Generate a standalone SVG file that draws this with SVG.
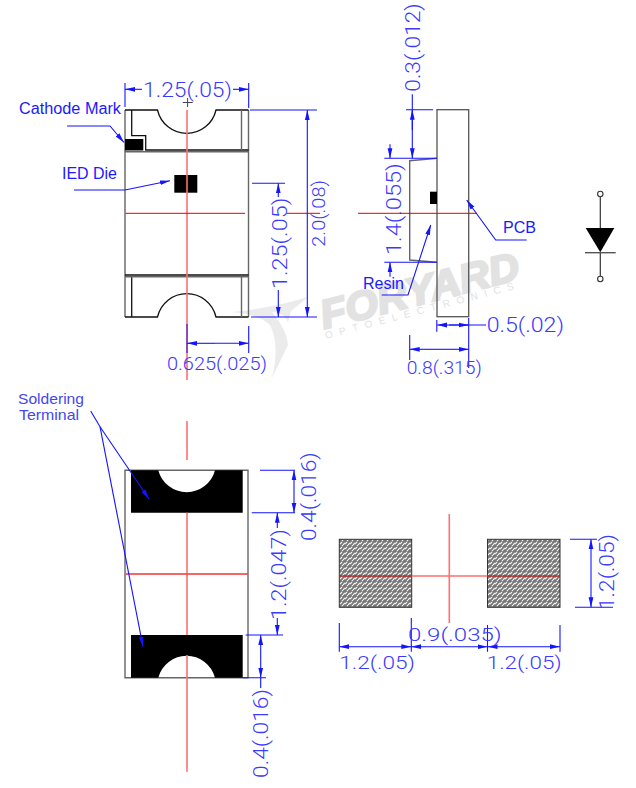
<svg xmlns="http://www.w3.org/2000/svg" width="636" height="788" viewBox="0 0 636 788">
<style>
.bg{fill:#fff}
.o{fill:none;stroke:#111;stroke-width:1.3}
.g{fill:none;stroke:#666;stroke-width:1.4}
.k{fill:#000}
.r{fill:none;stroke:#e00000;stroke-width:1}
.rl{fill:none;stroke:#ff7070;stroke-width:1.6}
.d{fill:none;stroke:#1414ff;stroke-width:1.1}
.a{fill:none;stroke:#1414ff;stroke-width:1.1;marker-end:url(#ah)}
.t{font-family:Roboto,"Liberation Sans",Arial,sans-serif;font-weight:300;fill:#3a3aff;font-size:21px}
.l{font-family:"Liberation Sans",Arial,sans-serif;fill:#1a1aff;font-size:16px}
.s{font-family:"Liberation Sans",Arial,sans-serif;fill:#4646f0;font-size:15px}
.w{font-family:"Liberation Sans",Arial,sans-serif;fill:#e2e2e2}
</style>
<defs>
<marker id="ah" markerUnits="userSpaceOnUse" markerWidth="11" markerHeight="7" refX="10" refY="3" orient="auto"><path d="M0,0.6L10,3L0,5.4Z" fill="#1414ff"/></marker>
<pattern id="hatch" width="5" height="5" patternUnits="userSpaceOnUse"><rect width="5" height="5" fill="#777"/><path d="M0,4L2,2M3,5L5,3M2,1L3,0" stroke="#f2f2f2" stroke-width="1.2"/></pattern>
</defs>
<rect class="bg" width="636" height="788"/>

<g id="watermark">
<path d="M232,312Q272,308 308,297L291,311L288,322Q284,312 272,312Q287,330 288,345L272,378Q280,345 270,325Q258,314 232,312Z" fill="#ebebeb"/>
<text class="w" transform="translate(324,329) rotate(-14.3)" font-size="40" font-weight="700" font-style="italic" stroke="#e2e2e2" stroke-width="2.4" textLength="204" lengthAdjust="spacingAndGlyphs">FORYARD</text>
<text class="w" transform="translate(326,339) rotate(-14.8)" font-size="10" textLength="195">OPTOELECTRONICS</text>
</g>

<g id="top-view">
<path class="g" d="M125,110V317M248.5,110V317"/>
<path class="o" d="M125,110H157.5A30,30 0 0 0 216,110H248.5M125,317H157.5A30,30 0 0 1 216,317H248.5"/>
<path class="o" d="M131.7,110V135.7H145.7V150H248.5M125,275H248.5M131.7,276V317"/>
<path class="g" d="M125,151.7H248.5M125,276.8H248.5M241.5,110V150M241.5,276V317"/>
<rect class="k" x="125" y="139" width="18.3" height="11.5"/>
<rect class="k" x="174.3" y="175" width="23" height="17.7"/>
<path d="M182.7,102.5H192.7M187.6,98V107" fill="none" stroke="#444" stroke-width="1"/>
<path class="rl" d="M187,110V380"/>
<path class="r" d="M125.5,213.3H245M287,213.3H320"/>
</g>

<g id="side-view">
<rect x="437" y="109.7" width="31.7" height="207" fill="none" stroke="#555" stroke-width="1.3"/>
<path class="g" d="M437,158.3L409.7,160.7V260L437,262.3"/>
<rect class="k" x="430" y="191.7" width="7" height="12.3"/>
<path class="r" d="M358,213.3H477"/>
</g>

<g id="bottom-view">
<path class="g" d="M125,470.3H248V677.7H125Z"/>
<path class="k" d="M131,470.3H158.3A29.3,29.3 0 0 0 215,470.3H242.7V512.7H131Z"/>
<path class="k" d="M131,677.7H158.3A29.3,29.3 0 0 1 215,677.7H242.7V635H131Z"/>
<path class="rl" d="M187,421V460M187,512.7V635M187,655V771.7M125.5,574H248"/>
<path class="r" d="M125.5,574H248" stroke-opacity=".6"/>
</g>

<g id="land-pattern">
<rect x="339.3" y="539.3" width="72.4" height="68" fill="url(#hatch)" stroke="#333"/>
<rect x="487.5" y="539.3" width="72.5" height="68" fill="url(#hatch)" stroke="#333"/>
<path class="rl" d="M411.7,576H487.5M449.3,514V623"/>
<path class="r" d="M340,576H411.7M487.5,576H559"/>
</g>

<g id="diode">
<path d="M600.3,196.7V228M600.3,252.7V276.3" fill="none" stroke="#333" stroke-width="1.2"/>
<circle cx="600.3" cy="194" r="2.7" fill="#fff" stroke="#333" stroke-width="1.1"/>
<circle cx="600.3" cy="279" r="2.7" fill="#fff" stroke="#333" stroke-width="1.1"/>
<path class="k" d="M585.7,228H614.3L600.3,252.3Z"/>
<path d="M585,252.7H615.7" stroke="#555" stroke-width="1.4"/>
</g>

<g id="connectors">
<path class="a" d="M67,126H110L124,142.5"/>
<path class="a" d="M74,190H125L170,180.7"/>
<path class="a" d="M526.7,240H495.7L466.7,200"/>
<path class="a" d="M381.7,295H408L430.7,225"/>
<path class="d" d="M90.7,411L100,426.7"/>
<path class="a" d="M100,426.7L149,499"/>
<path class="a" d="M100,426.7L143,646.7"/>

<path class="d" d="M125,83V107M248.7,83V108"/>
<path class="a" d="M142,89.3H125"/>
<path class="a" d="M233,89.3H248.7"/>
<path class="d" d="M250,110H317M251,317H317"/>
<path class="a" d="M307.3,150V110"/>
<path class="a" d="M307.3,290V317"/>
<path class="d" d="M307.3,150V290"/>
<path class="d" d="M252,183.3H285"/>
<path class="a" d="M278.3,197V183.3"/>
<path class="a" d="M278.3,290V317"/>
<path class="d" d="M248.7,326V353"/>
<path d="M187,324V353" stroke="#5a32d0" stroke-width="1.4"/>
<path class="a" d="M215,343.3H187"/>
<path class="a" d="M215,343.3H248.7"/>

<path class="d" d="M406,109.7H433M384.3,158.3H437M384.3,262.3H437"/>
<path class="a" d="M412.3,130V109.7"/>
<path class="a" d="M412.3,94.3V158.3"/>
<path class="a" d="M390,144.3V158.3"/>
<path class="a" d="M390,276.7V262.3"/>
<path class="d" d="M436.8,320V331.7M468.7,318V368M409.7,335V360"/>
<path class="a" d="M486,325H437"/>
<path class="a" d="M449,325H468.7"/>
<path class="a" d="M440,349.3H409.7"/>
<path class="a" d="M440,349.3H468.7"/>

<path class="d" d="M260,470.3H295M251.7,512.7H295M245.7,635H283M243,677.7H266"/>
<path class="a" d="M294,490V470.3"/>
<path class="a" d="M294,490V512.7"/>
<path class="a" d="M277.3,528V512.7"/>
<path class="a" d="M277.3,618V635"/>
<path class="a" d="M260.7,655V635"/>
<path class="a" d="M260.7,655V677.7"/>
<path class="d" d="M260.7,677.7V688"/>

<path class="d" d="M570,539.3H597M575,607.3H613"/>
<path class="a" d="M591,573V539.3"/>
<path class="a" d="M591,573V607.3"/>
<path class="d" d="M339.3,623V651.7M411.3,618V651.7M487.5,625V651.7M560,625V651.7"/>
<path class="a" d="M375,646.7H339.3"/>
<path class="a" d="M375,646.7H411.3"/>
<path class="a" d="M450,646.7H411.3"/>
<path class="a" d="M450,646.7H487.5"/>
<path class="a" d="M524,646.7H487.5"/>
<path class="a" d="M524,646.7H560"/>
</g>

<g id="labels">
<text class="l" x="19" y="113.5" textLength="102" lengthAdjust="spacingAndGlyphs">Cathode Mark</text>
<text class="l" x="62" y="178.5" textLength="55" lengthAdjust="spacingAndGlyphs">IED Die</text>
<text class="l" x="503" y="232.7" textLength="33" lengthAdjust="spacingAndGlyphs">PCB</text>
<text class="l" x="363" y="289" textLength="41" lengthAdjust="spacingAndGlyphs">Resin</text>
<text class="s" x="18" y="404" textLength="66" lengthAdjust="spacingAndGlyphs">Soldering</text>
<text class="s" x="19" y="419.6" textLength="60" lengthAdjust="spacingAndGlyphs">Terminal</text>

<text class="t" x="143" y="96.7" textLength="89" lengthAdjust="spacingAndGlyphs">1.25(.05)</text>
<text class="t" style="font-size:18px" x="167" y="370" textLength="100" lengthAdjust="spacingAndGlyphs">0.625(.025)</text>
<text class="t" x="486.7" y="332" textLength="77.3" lengthAdjust="spacingAndGlyphs">0.5(.02)</text>
<text class="t" style="font-size:18px" x="406.7" y="374" textLength="75" lengthAdjust="spacingAndGlyphs">0.8(.315)</text>
<text class="t" style="font-size:19px" x="339.3" y="669.3" textLength="75.7" lengthAdjust="spacingAndGlyphs">1.2(.05)</text>
<text class="t" style="font-size:19px" x="486.7" y="669.3" textLength="75" lengthAdjust="spacingAndGlyphs">1.2(.05)</text>
<text class="t" style="font-size:19px" x="408" y="641" textLength="93.7" lengthAdjust="spacingAndGlyphs">0.9(.035)</text>

<text class="t" style="font-size:19px" transform="translate(324.5,246.7) rotate(-90)" textLength="66.7" lengthAdjust="spacingAndGlyphs">2.0(.08)</text>
<text class="t" transform="translate(286.7,289) rotate(-90)" textLength="91.3" lengthAdjust="spacingAndGlyphs">1.25(.05)</text>
<text class="t" transform="translate(420,91.7) rotate(-90)" textLength="88.4" lengthAdjust="spacingAndGlyphs">0.3(.012)</text>
<text class="t" transform="translate(400.5,255) rotate(-90)" textLength="91.7" lengthAdjust="spacingAndGlyphs">1.4(.055)</text>
<text class="t" transform="translate(316,541) rotate(-90)" textLength="88.7" lengthAdjust="spacingAndGlyphs">0.4(.016)</text>
<text class="t" transform="translate(285.7,620) rotate(-90)" textLength="91" lengthAdjust="spacingAndGlyphs">1.2(.047)</text>
<text class="t" transform="translate(268,778) rotate(-90)" textLength="89" lengthAdjust="spacingAndGlyphs">0.4(.016)</text>
<text class="t" transform="translate(614,610) rotate(-90)" textLength="76" lengthAdjust="spacingAndGlyphs">1.2(.05)</text>
</g>
</svg>
